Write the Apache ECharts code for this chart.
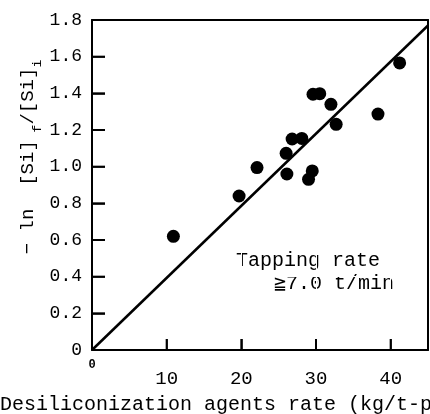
<!DOCTYPE html>
<html>
<head>
<meta charset="utf-8">
<script src="https://cdn.jsdelivr.net/npm/echarts@6/dist/echarts.min.js"></script>
<style>html,body{margin:0;padding:0;background:#fff;}#c{width:430px;height:414px;}</style>
</head>
<body>
<div id="c"></div>
<script>
// Data
var agentRate = [10.9, 19.7, 22.1, 26.0, 26.1, 26.8, 28.1, 29.0, 29.5, 29.6, 30.5, 32.0, 32.7, 38.3, 41.2];
var lnRatio   = [0.62, 0.84, 0.995, 1.073, 0.96, 1.151, 1.154, 0.931, 0.977, 1.395, 1.398, 1.34, 1.231, 1.287, 1.566];
var fitX = [0, 45];
var fitY = [0, 1.77];
var xTicks = [10, 20, 30, 40];
var yTicks = [0.2, 0.4, 0.6, 0.8, 1.0, 1.2, 1.4, 1.6];

var FONT = '"Liberation Mono", "DejaVu Sans Mono", monospace';
var points = agentRate.map(function (x, i) { return [x, lnRatio[i]]; });
var fit = fitX.map(function (x, i) { return [x, fitY[i]]; });

function tickSeries(values, isX, len) {
  return {
    type: 'scatter', silent: true, clip: false, z: 3,
    data: values.map(function (v) { return isX ? [v, 0] : [0, v]; }),
    symbol: 'rect',
    symbolSize: isX ? [2, len] : [len, 2],
    symbolOffset: isX ? [0, -len / 2] : [len / 2, 0],
    itemStyle: {color: '#000', opacity: 1}
  };
}

var chart = echarts.init(document.getElementById('c'), null, {renderer: 'canvas'});
chart.setOption({
  animation: false,
  grid: {left: 92, top: 20, right: 2, bottom: 64},
  xAxis: [{
    type: 'value', min: 0, max: 45, interval: 10, position: 'bottom',
    splitLine: {show: true, lineStyle: {color: '#ffffff', width: 1}},
    axisLine: {show: true, onZero: false, lineStyle: {color: '#000', width: 2}},
    axisTick: {show: true, inside: true, length: 11, lineStyle: {color: '#000', width: 1.5}},
    axisLabel: {
      show: true, showMaxLabel: false, margin: 9, color: '#000', fontFamily: FONT,
      formatter: function (v) { return v === 0 ? '{b|0}' : '{n|' + v + '}'; },
      rich: {
        b: {fontSize: 12, fontWeight: 'bold', fontFamily: FONT, color: '#000'},
        n: {fontSize: 19, fontFamily: FONT, color: '#000', padding: [10, 0, 0, 0]}
      }
    }
  }, {
    type: 'value', min: 0, max: 45, position: 'top',
    splitLine: {show: false},
    axisLine: {show: true, onZero: false, lineStyle: {color: '#000', width: 2}},
    axisTick: {show: false}, axisLabel: {show: false}
  }],
  yAxis: [{
    type: 'value', min: 0, max: 1.8, interval: 0.2, position: 'left',
    splitLine: {show: true, lineStyle: {color: '#ffffff', width: 1}},
    axisLine: {show: true, onZero: false, lineStyle: {color: '#000', width: 2}},
    axisTick: {show: true, inside: true, length: 13, lineStyle: {color: '#000', width: 1.5}},
    axisLabel: {
      margin: 10, color: '#000', fontSize: 18, fontFamily: FONT,
      formatter: function (v) { return v === 0 ? '0' : v.toFixed(1); }
    }
  }, {
    type: 'value', min: 0, max: 1.8, position: 'right',
    splitLine: {show: false},
    axisLine: {show: true, onZero: false, lineStyle: {color: '#000', width: 2}},
    axisTick: {show: false}, axisLabel: {show: false}
  }],
  graphic: [
    {
      type: 'text', x: 28, y: 157, rotation: Math.PI / 2,
      style: {
        text: '\u2212 ln  [Si]{s| f}/[Si]{s|i}',
        fontSize: 19, fontFamily: FONT, fill: '#000',
        align: 'center', verticalAlign: 'middle',
        rich: {s: {fontSize: 13, fontFamily: FONT, fill: '#000', padding: [20, 0, 0, 0]}}
      }
    },
    {
      type: 'text', x: 0, y: 405,
      style: {text: 'Desiliconization agents rate (kg/t-pig)', fontSize: 20, fontFamily: FONT, fill: '#000', align: 'left', verticalAlign: 'middle'}
    },
    {
      type: 'text', x: 236, y: 261,
      style: {text: 'Tapping rate', fontSize: 20, fontFamily: FONT, fill: '#000', align: 'left', verticalAlign: 'middle'}
    },
    {
      type: 'text', x: 274, y: 284,
      style: {text: '\u22677.0 t/min', fontSize: 20, fontFamily: FONT, fill: '#000', align: 'left', verticalAlign: 'middle'}
    }
  ],
  series: [
    tickSeries(xTicks, true, 11),
    tickSeries(yTicks, false, 13),
    {
      type: 'line', data: fit, symbol: 'none', silent: true,
      lineStyle: {color: '#000', width: 2.5}
    },
    {
      type: 'scatter', data: points, symbol: 'circle', symbolSize: 13,
      itemStyle: {color: '#000', opacity: 1}
    }
  ]
});
</script>
</body>
</html>
